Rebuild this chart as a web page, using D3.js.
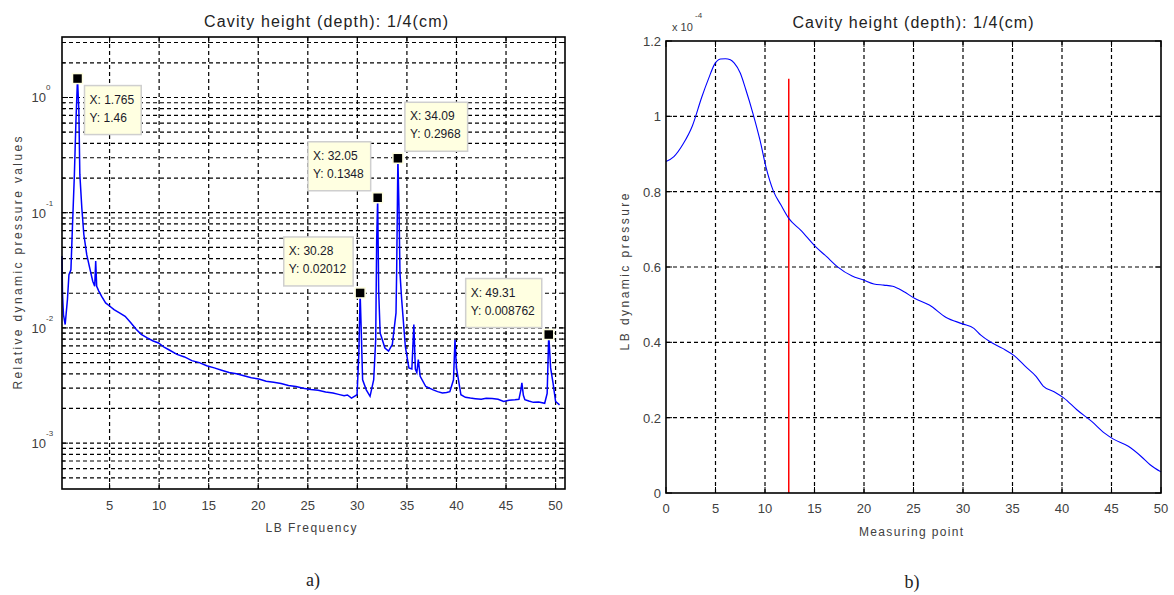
<!DOCTYPE html>
<html>
<head>
<meta charset="utf-8">
<script src="https://cdn.jsdelivr.net/npm/d3@7"></script>
<style>
  body { margin: 0; background: #fff; }
  text { font-family: "Liberation Sans", Arial, sans-serif; }
  text.caption { font-family: "Liberation Serif", "DejaVu Serif", serif; }
</style>
</head>
<body>
<svg id="chart" width="1174" height="595"></svg>
<script>
// ---- panel a) : spectrum (log y) ----
const freqA = [0.2, 0.25, 0.35, 0.52, 0.75, 0.9, 1.1, 1.25, 1.45, 1.6, 1.765, 1.9, 2.0, 2.2, 2.4, 2.7, 3.0, 3.3, 3.5, 3.6, 3.7, 3.9, 4.2, 4.6,
  5.0, 5.45, 6.0, 6.57, 7.1, 7.7, 8.2, 8.8, 9.4, 9.94, 10.5, 11.07, 11.8, 12.56, 13.3, 14.06, 14.8, 15.56, 16.3, 17.06, 17.8, 18.55,
  19.3, 20.05, 20.8, 21.55, 22.3, 23.05, 23.8, 24.54, 25.3, 26.04, 26.8, 27.54, 28.1, 28.66, 29.0, 29.41, 29.7, 29.97, 30.15, 30.28,
  30.4, 30.53, 30.9, 31.28, 31.65, 31.85, 31.95, 32.05, 32.15, 32.3, 32.4, 32.78, 33.15, 33.53, 33.9, 33.97, 34.09, 34.2, 34.3, 34.47,
  34.84, 35.2, 35.5, 35.7, 35.85, 36.0, 36.15, 36.34, 36.9, 37.65, 38.1, 38.58, 39.0, 39.33, 39.7, 39.85, 40.0, 40.2, 40.45, 40.9,
  41.4, 41.9, 42.5, 43.0, 43.6, 44.2, 44.76, 45.3, 45.9, 46.3, 46.5, 46.6, 46.75, 46.9, 47.3, 47.76, 48.3, 48.9, 49.15, 49.31, 49.5,
  49.74, 50.0, 50.4];
const pressA = [0.042, 0.02, 0.013, 0.0107, 0.0177, 0.029, 0.032, 0.074, 0.215, 0.6, 1.46, 0.77, 0.215, 0.11, 0.065, 0.043, 0.033, 0.0254, 0.023, 0.038, 0.023, 0.021, 0.0188, 0.0165,
  0.0155, 0.0144, 0.0135, 0.0126, 0.0112, 0.0097, 0.0088, 0.0082, 0.0077, 0.0074, 0.0068, 0.0064, 0.0059, 0.0056, 0.0052, 0.005, 0.0047, 0.0045, 0.0043, 0.0041, 0.004, 0.00385,
  0.0037, 0.0036, 0.00345, 0.00337, 0.0033, 0.00316, 0.0031, 0.003, 0.00292, 0.00288, 0.00278, 0.00272, 0.00265, 0.00258, 0.00262, 0.00246, 0.00255, 0.00263, 0.006, 0.02012,
  0.009, 0.00355, 0.0029, 0.00255, 0.00355, 0.0079, 0.058, 0.1348, 0.021, 0.009, 0.0085, 0.0067, 0.0063, 0.0072, 0.0135, 0.033, 0.2968, 0.11, 0.03, 0.0177,
  0.0069, 0.0045, 0.0044, 0.0107, 0.0044, 0.0041, 0.0053, 0.0038, 0.0031, 0.0029, 0.0028, 0.00272, 0.00275, 0.0028, 0.00355, 0.0079, 0.0045, 0.00355, 0.00263, 0.0025,
  0.00246, 0.00243, 0.0024, 0.00245, 0.00244, 0.0024, 0.0023, 0.00236, 0.00238, 0.0024, 0.0029, 0.00333, 0.0026, 0.00238, 0.00232, 0.00226, 0.00228, 0.00222, 0.0027, 0.008762, 0.0045,
  0.00333, 0.0023, 0.00215];
const tipFreq = [1.765, 34.09, 32.05, 30.28, 49.31];
const tipVal = [1.46, 0.2968, 0.1348, 0.02012, 0.008762];
const xTicksA = [5, 10, 15, 20, 25, 30, 35, 40, 45, 50];
const yDecadesA = [-3, -2, -1, 0];

// ---- panel b) : pressure along measuring points (x 10^-4) ----
const pointB = [0, 0.8, 1.74, 2.67, 3.6, 4.3, 4.9, 5.5, 6.0, 6.5, 6.9, 7.5, 8.05, 8.8, 9.5, 10.1, 10.84, 11.6, 12.4, 13.6, 15.1, 16.2,
  17.3, 18.8, 19.9, 21.0, 22.0, 22.9, 24.0, 25.1, 26.6, 28.3, 29.96, 31.1, 31.8, 32.7, 34.0, 35.2, 36.3, 37.4, 38.1, 39.2, 40.2,
  41.5, 43.0, 44.3, 45.2, 46.7, 48.0, 48.9, 50];
const pressB = [0.88, 0.893, 0.927, 0.975, 1.05, 1.1, 1.138, 1.152, 1.153, 1.15, 1.141, 1.115, 1.072, 1.006, 0.936, 0.865, 0.802, 0.765, 0.729, 0.698, 0.654, 0.628,
  0.601, 0.576, 0.566, 0.555, 0.552, 0.549, 0.535, 0.517, 0.499, 0.466, 0.449, 0.437, 0.419, 0.402, 0.384, 0.364, 0.336, 0.309, 0.284, 0.269, 0.252,
  0.221, 0.19, 0.159, 0.143, 0.124, 0.097, 0.075, 0.056];
const markerB = { x: 12.4, y0: 0, y1: 1.1 };
const xTicksB = [0, 5, 10, 15, 20, 25, 30, 35, 40, 45, 50];
const yTicksB = [0, 0.2, 0.4, 0.6, 0.8, 1, 1.2];

const titleText = 'Cavity height (depth): 1/4(cm)';

const svg = d3.select('#chart');

// ================= panel a =================
const xA = d3.scaleLinear().domain([0.2, 50.95]).range([62, 565]);
const yA = d3.scaleLog().domain([4e-4, 3.35]).range([489, 37]);

const gA = svg.append('g');

// log grid values inside the domain
let logLines = [];
for (let e = -4; e <= 0; e++) {
  for (let m = 1; m <= 9; m++) {
    let v = m * Math.pow(10, e);
    if (v > 4.001e-4 && v < 3.35) logLines.push({ v: v, major: m == 1 });
  }
}

gA.selectAll('line.hgrid')
  .data(logLines)
  .join('line')
  .attr('class', 'hgrid')
  .attr('x1', 62).attr('x2', 565)
  .attr('y1', d => yA(d.v)).attr('y2', d => yA(d.v))
  .attr('stroke', '#000').attr('stroke-width', 1.2)
  .attr('stroke-dasharray', '4,3');

gA.selectAll('line.vgrid')
  .data(xTicksA)
  .join('line')
  .attr('class', 'vgrid')
  .attr('x1', d => xA(d)).attr('x2', d => xA(d))
  .attr('y1', 489).attr('y2', 37)
  .attr('stroke', '#000').attr('stroke-width', 1.2)
  .attr('stroke-dasharray', '4,3');

// inward ticks
gA.selectAll('line.ytick')
  .data(logLines.concat(logLines.map(d => ({ v: d.v, major: d.major, right: true }))))
  .join('line')
  .attr('class', 'ytick')
  .attr('x1', d => d.right ? 565 : 62)
  .attr('x2', d => d.right ? 565 - (d.major ? 6 : 3) : 62 + (d.major ? 6 : 3))
  .attr('y1', d => yA(d.v)).attr('y2', d => yA(d.v))
  .attr('stroke', '#000');

gA.selectAll('line.xtick')
  .data(xTicksA.flatMap(t => [{ t: t, y: 489, dy: -6 }, { t: t, y: 37, dy: 6 }]))
  .join('line')
  .attr('class', 'xtick')
  .attr('x1', d => xA(d.t)).attr('x2', d => xA(d.t))
  .attr('y1', d => d.y).attr('y2', d => d.y + d.dy)
  .attr('stroke', '#000');

// spectrum line
const lineA = d3.line()
  .x((d, i) => xA(freqA[i]))
  .y(d => yA(d));

gA.append('path')
  .datum(pressA)
  .attr('d', lineA)
  .attr('fill', 'none')
  .attr('stroke', '#0000ff')
  .attr('stroke-width', 1.5);

gA.append('rect')
  .attr('x', 62).attr('y', 37).attr('width', 503).attr('height', 452)
  .attr('fill', 'none').attr('stroke', '#000').attr('stroke-width', 1.6);

// x labels
gA.selectAll('text.xlab')
  .data(xTicksA)
  .join('text')
  .attr('class', 'xlab')
  .attr('x', d => xA(d)).attr('y', 510)
  .attr('text-anchor', 'middle')
  .attr('font-size', 13).attr('fill', '#404040')
  .text(d => d);

// y labels 10^n
gA.selectAll('text.ylab')
  .data(yDecadesA)
  .join('text')
  .attr('class', 'ylab')
  .attr('x', 46).attr('y', d => yA(Math.pow(10, d)) + 5)
  .attr('text-anchor', 'end')
  .attr('font-size', 13).attr('fill', '#404040')
  .text('10');
gA.selectAll('text.yexp')
  .data(yDecadesA)
  .join('text')
  .attr('class', 'yexp')
  .attr('x', 46).attr('y', d => yA(Math.pow(10, d)) - 7)
  .attr('font-size', 8).attr('fill', '#404040')
  .text(d => d);

// data tips
const tipDir = [[1, 1], [1, -1], [-1, -1], [-1, -1], [-1, -1]];
tipFreq.forEach(function (f, i) {
  let mx = xA(f), my = yA(tipVal[i]);
  let g = gA.append('g');
  let box = g.append('rect');
  let t1 = g.append('text').attr('font-size', 12).attr('fill', '#1a1a2a').text('X: ' + f);
  let t2 = g.append('text').attr('font-size', 12).attr('fill', '#1a1a2a').text('Y: ' + tipVal[i]);
  let w = Math.max(t1.node().getComputedTextLength(), t2.node().getComputedTextLength()) + 12;
  let h = 49;
  let bx = tipDir[i][0] > 0 ? mx + 7 : mx - 7 - w;
  let by = tipDir[i][1] > 0 ? my + 7 : my - 7 - h;
  box.attr('x', bx).attr('y', by).attr('width', w).attr('height', h)
    .attr('fill', '#ffffe1').attr('stroke', '#cfcfcf').attr('stroke-width', 1.5);
  t1.attr('x', bx + 5).attr('y', by + 18);
  t2.attr('x', bx + 5).attr('y', by + 36);
  g.append('rect')
    .attr('x', mx - 5).attr('y', my - 5).attr('width', 10).attr('height', 10)
    .attr('fill', '#000').attr('stroke', '#ffffe1').attr('stroke-width', 1.5);
});

gA.append('text')
  .attr('x', 326).attr('y', 27)
  .attr('text-anchor', 'middle').attr('font-size', 16).attr('fill', '#222')
  .attr('textLength', 244).attr('lengthAdjust', 'spacing')
  .text(titleText);
gA.append('text')
  .attr('x', 311).attr('y', 532)
  .attr('text-anchor', 'middle').attr('font-size', 12).attr('fill', '#404040')
  .attr('textLength', 91).attr('lengthAdjust', 'spacing')
  .text('LB Frequency');
gA.append('text')
  .attr('transform', 'translate(22,263) rotate(-90)')
  .attr('text-anchor', 'middle').attr('font-size', 12).attr('fill', '#404040')
  .attr('textLength', 253).attr('lengthAdjust', 'spacing')
  .text('Relative dynamic pressure values');
gA.append('text')
  .attr('class', 'caption')
  .attr('x', 313).attr('y', 586)
  .attr('text-anchor', 'middle').attr('font-size', 18).attr('fill', '#222')
  .text('a)');

// ================= panel b =================
const xB = d3.scaleLinear().domain([0, 50]).range([666, 1161]);
const yB = d3.scaleLinear().domain([0, 1.2]).range([493, 41]);

const gB = svg.append('g');

gB.selectAll('line.vgrid')
  .data(xTicksB.slice(1, -1))
  .join('line')
  .attr('class', 'vgrid')
  .attr('x1', d => xB(d)).attr('x2', d => xB(d))
  .attr('y1', 493).attr('y2', 41)
  .attr('stroke', '#000').attr('stroke-width', 1.2).attr('stroke-dasharray', '4,3');

gB.selectAll('line.hgrid')
  .data(yTicksB.slice(1, -1))
  .join('line')
  .attr('class', 'hgrid')
  .attr('x1', 666).attr('x2', 1161)
  .attr('y1', d => yB(d)).attr('y2', d => yB(d))
  .attr('stroke', '#000').attr('stroke-width', 1.2).attr('stroke-dasharray', '4,3');

gB.selectAll('line.xtick')
  .data(xTicksB.flatMap(t => [{ t: t, y: 493, dy: -6 }, { t: t, y: 41, dy: 6 }]))
  .join('line')
  .attr('class', 'xtick')
  .attr('x1', d => xB(d.t)).attr('x2', d => xB(d.t))
  .attr('y1', d => d.y).attr('y2', d => d.y + d.dy)
  .attr('stroke', '#000');

gB.selectAll('line.ytick')
  .data(yTicksB.flatMap(t => [{ t: t, x: 666, dx: 6 }, { t: t, x: 1161, dx: -6 }]))
  .join('line')
  .attr('class', 'ytick')
  .attr('x1', d => d.x).attr('x2', d => d.x + d.dx)
  .attr('y1', d => yB(d.t)).attr('y2', d => yB(d.t))
  .attr('stroke', '#000');

gB.append('line')
  .attr('x1', xB(markerB.x)).attr('x2', xB(markerB.x))
  .attr('y1', yB(markerB.y0)).attr('y2', yB(markerB.y1))
  .attr('stroke', '#ff0000').attr('stroke-width', 1.5);

const lineB = d3.line()
  .x((d, i) => xB(pointB[i]))
  .y(d => yB(d))
  .curve(d3.curveMonotoneX);

gB.append('path')
  .datum(pressB)
  .attr('d', lineB)
  .attr('fill', 'none')
  .attr('stroke', '#0000ff')
  .attr('stroke-width', 1.1);

gB.append('rect')
  .attr('x', 666).attr('y', 41).attr('width', 495).attr('height', 452)
  .attr('fill', 'none').attr('stroke', '#000').attr('stroke-width', 1.6);

gB.selectAll('text.xlab')
  .data(xTicksB)
  .join('text')
  .attr('class', 'xlab')
  .attr('x', d => xB(d)).attr('y', 513)
  .attr('text-anchor', 'middle')
  .attr('font-size', 13).attr('fill', '#404040')
  .text(d => d);

gB.selectAll('text.ylab')
  .data(yTicksB)
  .join('text')
  .attr('class', 'ylab')
  .attr('x', 661).attr('y', d => yB(d) + 5)
  .attr('text-anchor', 'end')
  .attr('font-size', 13).attr('fill', '#404040')
  .text(d => d);

gB.append('text')
  .attr('x', 672).attr('y', 31)
  .attr('font-size', 11).attr('fill', '#404040')
  .text('x 10');
gB.append('text')
  .attr('x', 695).attr('y', 18)
  .attr('font-size', 8).attr('fill', '#404040')
  .text('-4');

gB.append('text')
  .attr('x', 913).attr('y', 28)
  .attr('text-anchor', 'middle').attr('font-size', 16).attr('fill', '#222')
  .attr('textLength', 241).attr('lengthAdjust', 'spacing')
  .text(titleText);
gB.append('text')
  .attr('x', 911).attr('y', 536)
  .attr('text-anchor', 'middle').attr('font-size', 12).attr('fill', '#404040')
  .attr('textLength', 104).attr('lengthAdjust', 'spacing')
  .text('Measuring point');
gB.append('text')
  .attr('transform', 'translate(629,272) rotate(-90)')
  .attr('text-anchor', 'middle').attr('font-size', 12).attr('fill', '#404040')
  .attr('textLength', 157).attr('lengthAdjust', 'spacing')
  .text('LB dynamic pressure');
gB.append('text')
  .attr('class', 'caption')
  .attr('x', 912).attr('y', 588)
  .attr('text-anchor', 'middle').attr('font-size', 18).attr('fill', '#222')
  .text('b)');
</script>
</body>
</html>
